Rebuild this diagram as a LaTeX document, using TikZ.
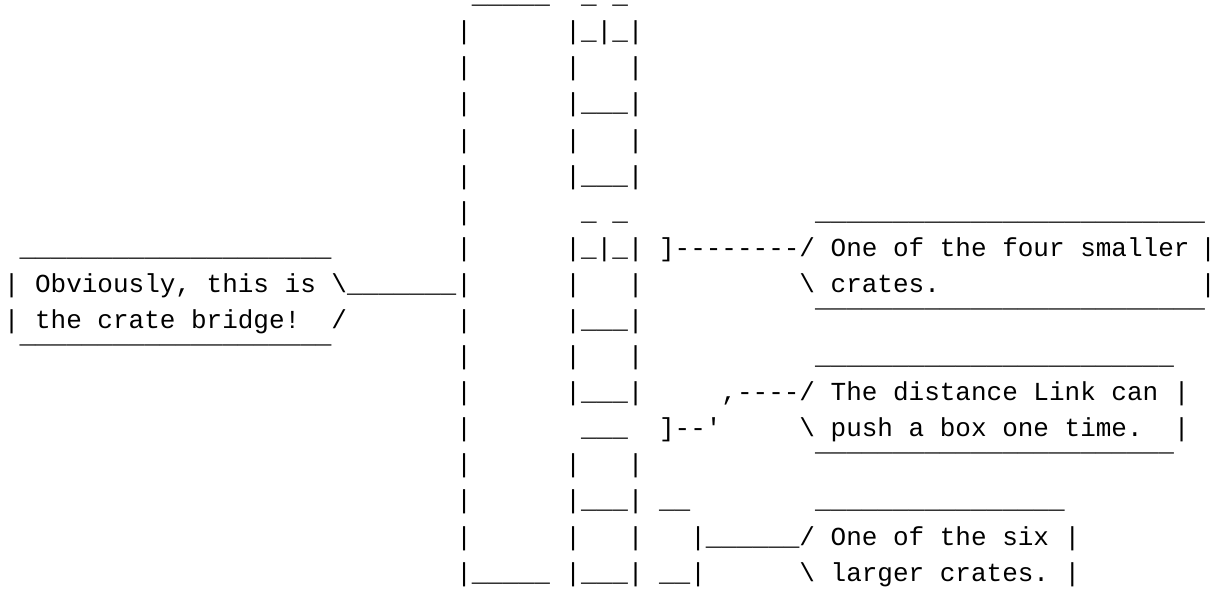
\documentclass[tikz,border=0pt]{standalone}
\usepackage{fontspec}
\setmonofont{Liberation Mono}

% runs of low and high rule characters
\newcommand\lowbar[1]{\foreach\n in {1,...,#1}{\_}}
\newcommand\highbar[1]{\foreach\n in {1,...,#1}{‾}}

\begin{document}
\begin{tikzpicture}[
  x=7.8pt, y=-18.05pt,
  row/.style={anchor=base west, inner sep=0pt, outer sep=0pt,
    font=\ttfamily\fontsize{13}{13}\selectfont},
  rowend/.style={row, anchor=base east}
]
\path[fill=white, use as bounding box] (-0.25,-0.1) rectangle (77.7,16.3);

% the bridge: pier on the left, stack of crates on the right
\node[row] (top) at (30,0) {\lowbar{5}};
\node[row] (topc) at (37,0) {\_ \_};
\node[row] (p1) at (29,1) {|};
\node[row] (c1) at (36,1) {|\_|\_|};
\node[row] (p2) at (29,2) {|};
\node[row] (c2l) at (36,2) {|};
\node[row] (c2r) at (40,2) {|};
\node[row] (p3) at (29,3) {|};
\node[row] (c3) at (36,3) {|\lowbar{3}|};
\node[row] (p4) at (29,4) {|};
\node[row] (c4l) at (36,4) {|};
\node[row] (c4r) at (40,4) {|};
\node[row] (p5) at (29,5) {|};
\node[row] (c5) at (36,5) {|\lowbar{3}|};
\node[row] (p6) at (29,6) {|};
\node[row] (c6) at (37,6) {\_ \_};
\node[row] (p7) at (29,7) {|};
\node[row] (c7) at (36,7) {|\_|\_|};
\node[row] (p8) at (29,8) {|};
\node[row] (c8l) at (36,8) {|};
\node[row] (c8r) at (40,8) {|};
\node[row] (p9) at (29,9) {|};
\node[row] (c9) at (36,9) {|\lowbar{3}|};
\node[row] (p10) at (29,10) {|};
\node[row] (c10l) at (36,10) {|};
\node[row] (c10r) at (40,10) {|};
\node[row] (p11) at (29,11) {|};
\node[row] (c11) at (36,11) {|\lowbar{3}|};
\node[row] (p12) at (29,12) {|};
\node[row] (c12) at (37,12) {\lowbar{3}};
\node[row] (p13) at (29,13) {|};
\node[row] (c13l) at (36,13) {|};
\node[row] (c13r) at (40,13) {|};
\node[row] (p14) at (29,14) {|};
\node[row] (c14) at (36,14) {|\lowbar{3}| \_\_};
\node[row] (p15) at (29,15) {|};
\node[row] (c15l) at (36,15) {|};
\node[row] (c15r) at (40,15) {|};
\node[row] (p16) at (29,16) {|\lowbar{5}};
\node[row] (c16) at (36,16) {|\lowbar{3}| \_\_|};

% callout: the whole bridge
\node[row] (bridgeT) at (1,7) {\lowbar{20}};
\node[row] (bridge1) at (0,8) {| Obviously, this is \textbackslash\lowbar{7}};
\node[row] (bridge2) at (0,9) {| the crate bridge!};
\node[row] (bridge2e) at (21,9) {/};
\node[row] (bridgeB) at (1,10) {\highbar{20}};

% callout: small crate
\node[row] (smallT) at (52,6) {\lowbar{25}};
\node[row] (small1) at (42,7) {]--------/ One of the four smaller};
\node[rowend] (small1e) at (77.7,7) {|};
\node[row] (small2) at (51,8) {\textbackslash{} crates.};
\node[rowend] (small2e) at (77.7,8) {|};
\node[row] (smallB) at (52,9) {\highbar{25}};

% callout: push distance
\node[row] (pushT) at (52,10) {\lowbar{23}};
\node[row] (push1) at (46,11) {,----/ The distance Link can |};
\node[row] (push2a) at (42,12) {]--'};
\node[row] (push2) at (51,12) {\textbackslash{} push a box one time.};
\node[row] (push2e) at (75,12) {|};
\node[row] (pushB) at (52,13) {\highbar{23}};

% callout: large crate
\node[row] (largeT) at (52,14) {\lowbar{16}};
\node[row] (large1) at (44,15) {|\lowbar{6}/ One of the six |};
\node[row] (large2) at (51,16) {\textbackslash{} larger crates. |};
\end{tikzpicture}
\end{document}
